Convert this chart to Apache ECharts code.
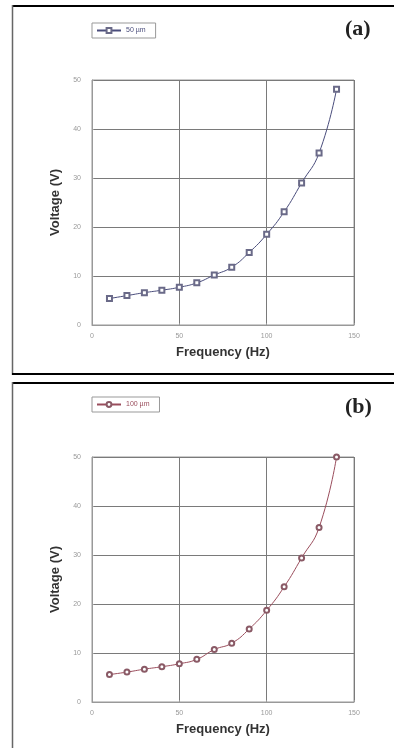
<!DOCTYPE html>
<html>
<head>
<meta charset="utf-8">
<script src="https://cdn.jsdelivr.net/npm/echarts@6/dist/echarts.min.js"></script>
<style>
  html, body { margin: 0; padding: 0; background: #fff; }
  #chart { width: 394px; height: 748px; }
</style>
</head>
<body>
<div id="chart"></div>
<script>
// Drive frequency (Hz) shared by both panels
const frequency = [10, 20, 30, 40, 50, 60, 70, 80, 90, 100, 110, 120, 130, 140];
// Required voltage (V) for the 50 µm gap
const voltage50 = [5.4, 6.0, 6.6, 7.1, 7.7, 8.6, 10.2, 11.8, 14.8, 18.5, 23.1, 29.0, 35.1, 48.1];
// Required voltage (V) for the 100 µm gap
const voltage100 = [5.6, 6.1, 6.7, 7.2, 7.8, 8.7, 10.7, 12.0, 14.9, 18.7, 23.5, 29.4, 35.6, 50.0];

const seriesNames = ['50 µm', '100 µm'];
const panelTags = ['(a)', '(b)'];
const xTicks = { min: 0, max: 150, interval: 50 };
const yTicks = { min: 0, max: 50, interval: 10 };

const lineColors = ['#4a4d7c', '#9a4d5c'];
const markerColors = ['#6a6a88', '#8a5a66'];
const gridTops = [80, 457];
const legendTops = [23, 397];

const chart = echarts.init(document.getElementById('chart'), null, { renderer: 'canvas' });

function pairs(ys) {
  return frequency.map((f, i) => [f, ys[i]]);
}

const xAxes = gridTops.map((t, i) => ({
  type: 'value', gridIndex: i,
  min: xTicks.min, max: xTicks.max, interval: xTicks.interval,
  name: 'Frequency (Hz)', nameLocation: 'middle', nameGap: 21,
  nameTextStyle: { fontFamily: 'Liberation Sans', fontWeight: 'bold', fontSize: 13, color: '#333' },
  axisLine: { show: true, lineStyle: { color: '#999', width: 1 } },
  axisTick: { show: true, inside: true, length: 2, lineStyle: { color: '#999' } },
  axisLabel: { fontSize: 7, color: '#999', margin: 8, fontFamily: 'Liberation Sans' },
  splitLine: { show: true, lineStyle: { color: '#7a7a7a', width: 1 } }
}));

const yAxes = gridTops.map((t, i) => ({
  type: 'value', gridIndex: i,
  min: yTicks.min, max: yTicks.max, interval: yTicks.interval,
  name: 'Voltage (V)', nameLocation: 'middle', nameGap: 28,
  nameTextStyle: { fontFamily: 'Liberation Sans', fontWeight: 'bold', fontSize: 13, color: '#333' },
  axisLine: { show: true, lineStyle: { color: '#999', width: 1 } },
  axisTick: { show: true, inside: true, length: 2, lineStyle: { color: '#999' } },
  axisLabel: { fontSize: 7, color: '#999', margin: 11, fontFamily: 'Liberation Sans' },
  splitLine: { show: true, lineStyle: { color: '#7a7a7a', width: 1 } }
}));

const option = {
  backgroundColor: '#fff',
  animation: false,
  grid: gridTops.map(t => ({
    left: 92, top: t, width: 262, height: 245,
    show: true, borderColor: '#999', borderWidth: 1, backgroundColor: 'transparent'
  })),
  xAxis: xAxes,
  yAxis: yAxes,
  legend: seriesNames.map((n, i) => ({
    data: [n], left: 92, top: legendTops[i],
    orient: 'horizontal',
    borderColor: '#999', borderWidth: 1, padding: [4, 10, 4, 4],
    itemWidth: 24, itemHeight: 6, itemGap: 4,
    textStyle: { fontSize: 7, color: lineColors[i], fontFamily: 'Liberation Sans' }
  })),
  series: [
    {
      name: seriesNames[0], type: 'line', xAxisIndex: 0, yAxisIndex: 0,
      data: pairs(voltage50), smooth: 0.5,
      symbol: 'emptyRect', symbolSize: 5,
      lineStyle: { color: lineColors[0], width: 1 },
      itemStyle: { color: markerColors[0], borderColor: markerColors[0], borderWidth: 1 }
    },
    {
      name: seriesNames[1], type: 'line', xAxisIndex: 1, yAxisIndex: 1,
      data: pairs(voltage100), smooth: 0.5,
      symbol: 'emptyCircle', symbolSize: 5,
      lineStyle: { color: lineColors[1], width: 1 },
      itemStyle: { color: markerColors[1], borderColor: markerColors[1], borderWidth: 1.2 }
    }
  ],
  graphic: [
    // panel (a) frame
    { type: 'line', shape: { x1: 12, y1: 6, x2: 394, y2: 6 }, style: { stroke: '#000', lineWidth: 2 } },
    { type: 'line', shape: { x1: 12.5, y1: 5, x2: 12.5, y2: 375 }, style: { stroke: '#666', lineWidth: 1.5 } },
    { type: 'line', shape: { x1: 12, y1: 374, x2: 394, y2: 374 }, style: { stroke: '#000', lineWidth: 2 } },
    // panel (b) frame
    { type: 'line', shape: { x1: 12, y1: 383, x2: 394, y2: 383 }, style: { stroke: '#000', lineWidth: 2 } },
    { type: 'line', shape: { x1: 12.5, y1: 382, x2: 12.5, y2: 748 }, style: { stroke: '#666', lineWidth: 1.5 } },
    // panel tags
    { type: 'text', left: 345, top: 18, style: { text: panelTags[0], font: 'bold 22px "Liberation Serif"', fill: '#222' } },
    { type: 'text', left: 345, top: 396, style: { text: panelTags[1], font: 'bold 22px "Liberation Serif"', fill: '#222' } }
  ]
};

chart.setOption(option);
</script>
</body>
</html>
